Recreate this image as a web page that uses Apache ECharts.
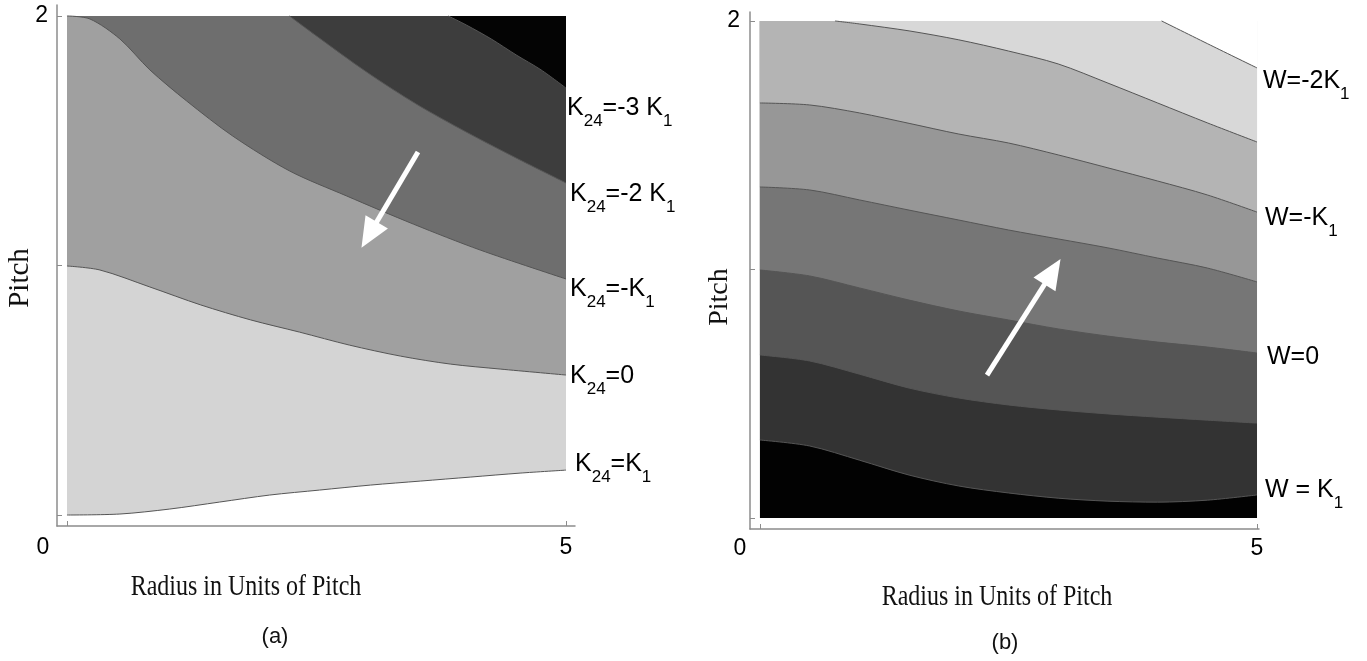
<!DOCTYPE html>
<html><head><meta charset="utf-8">
<script src="https://cdn.jsdelivr.net/npm/echarts@6.0.0/dist/echarts.min.js"></script>
<style>html,body{margin:0;padding:0;background:#fff}#c{width:1367px;height:661px}</style>
</head><body><div id="c"></div>
<script>
// ---------- data ----------
const xTickValues = [0, 5];
const yTickValues = [0, 1, 2];
const yTickLabelValues = [2];

// Panel (a): contour boundaries (radius, pitch)
const a_K24_eq_K1  = [[0,0],[0.53,0.004],[1.03,0.024],[1.53,0.052],[2.03,0.080],[2.53,0.100],[3.04,0.120],[3.54,0.136],[4.04,0.152],[4.54,0.168],[5.0,0.180]];
const a_K24_eq_0   = [[0,0.998],[0.33,0.982],[0.83,0.914],[1.34,0.842],[1.84,0.782],[2.33,0.733],[2.83,0.681],[3.34,0.637],[3.84,0.605],[4.34,0.585],[5.0,0.561]];
const a_K24_eq_mK1 = [[0,2.0],[0.23,1.988],[0.53,1.908],[0.83,1.784],[1.2,1.659],[1.66,1.519],[2.23,1.379],[2.8,1.279],[3.47,1.166],[4.14,1.062],[5.0,0.946]];
const a_K24_eq_m2K1 = [[2.23,2.0],[2.5,1.920],[3.0,1.776],[3.5,1.647],[4.0,1.535],[4.5,1.431],[5.0,1.331]];
const a_K24_eq_m3K1 = [[3.82,2.0],[4.0,1.964],[4.25,1.908],[4.5,1.844],[4.75,1.784],[5.0,1.711]];

// Panel (b): contour boundaries (radius, pitch)
const b_floor = [[0,0],[5,0]];
const b_c6 = [[0,0.314],[0.5,0.290],[1.0,0.233],[1.5,0.173],[2.0,0.129],[2.5,0.101],[3.0,0.080],[3.5,0.068],[4.0,0.064],[4.5,0.072],[5.0,0.093]];
const b_c5 = [[0,0.656],[0.5,0.632],[1.0,0.579],[1.5,0.523],[2.0,0.483],[2.5,0.455],[3.0,0.435],[3.5,0.419],[4.0,0.406],[4.5,0.394],[5.0,0.382]];
const b_c4 = [[0,0.998],[0.5,0.974],[1.0,0.926],[1.5,0.877],[2.0,0.833],[2.5,0.797],[3.0,0.761],[3.5,0.732],[4.0,0.708],[4.5,0.688],[5.0,0.664]];
const b_c3 = [[0,1.332],[0.5,1.320],[1.0,1.280],[1.5,1.239],[2.0,1.199],[2.5,1.159],[3.0,1.123],[3.5,1.087],[4.0,1.046],[4.5,1.006],[5.0,0.950]];
const b_c2 = [[0,1.670],[0.5,1.662],[1.0,1.630],[1.5,1.588],[2.0,1.545],[2.5,1.509],[3.0,1.461],[3.5,1.409],[4.0,1.356],[4.5,1.300],[5.0,1.231]];
const b_c1 = [[0.755,2.0],[1.0,1.988],[1.5,1.960],[2.0,1.924],[2.5,1.879],[3.0,1.827],[3.5,1.750],[4.0,1.670],[4.5,1.590],[5.0,1.513]];
const b_c0 = [[4.04,2.0],[4.53,1.903],[5.0,1.811]];

// arrows (data coords: tail, head)
const arrowA = [[3.517,1.455],[3.027,1.123]];
const arrowB = [[2.284,0.575],[2.943,0.991]];

// contour labels: [text, isSubscript]
const labelsA = [
  [['K',0],['24',1],['=-3 K',0],['1',1]],
  [['K',0],['24',1],['=-2 K',0],['1',1]],
  [['K',0],['24',1],['=-K',0],['1',1]],
  [['K',0],['24',1],['=0',0]],
  [['K',0],['24',1],['=K',0],['1',1]]
];
const labelsB = [
  [['W=-2K',0],['1',1]],
  [['W=-K',0],['1',1]],
  [['W=0',0]],
  [['W = K',0],['1',1]]
];
const xTitle = 'Radius in Units of Pitch';
const yTitle = 'Pitch';
const stableText = 'Stable';

// ---------- chart ----------
const chart = echarts.init(document.getElementById('c'), null, {renderer:'canvas'});
const SANS = '"Liberation Sans", Arial, sans-serif';
const SERIF = '"Liberation Serif", "Times New Roman", serif';
const AX = '#8c8c8c';

function band(idx, data, color, lineW) {
  return {
    type:'line', xAxisIndex:idx, yAxisIndex:idx, data:data,
    smooth:0.3, symbol:'none', showSymbol:false, silent:true, animation:false,
    lineStyle:{color:'#555', width: lineW === undefined ? 1 : lineW},
    areaStyle:{color:color, opacity:1, origin:2}
  };
}
function arrow(pts) {
  return {
    silent:true, animation:false, symbol:['none','triangle'], symbolSize:[26,30],
    lineStyle:{color:'#fff', width:5, type:'solid', opacity:1},
    itemStyle:{color:'#fff'},
    label:{show:false}, emphasis:{disabled:true},
    data:[[{coord:pts[0]},{coord:pts[1]}]]
  };
}

function xAxisCfg(idx, max, zeroPad, margin) {
  return {
    gridIndex:idx, type:'value', min:-0.1, max:max,
    axisLine:{show:true, onZero:false, lineStyle:{color:AX, width:1.5}},
    axisTick:{show:true, inside:true, length:5, customValues:xTickValues, lineStyle:{color:AX}},
    axisLabel:{show:true, customValues:xTickValues, margin:margin, color:'#000', fontSize:23, fontFamily:SANS,
      formatter:function(v){ return v === 0 ? '{z|0}' : '{n|' + v + '}'; },
      rich:{ z:{padding:[0,zeroPad,0,0], fontSize:23, fontFamily:SANS, color:'#000'}, n:{fontSize:23, fontFamily:SANS, color:'#000'} }
    },
    splitLine:{show:false}
  };
}
function yAxisCfg(idx, max, margin) {
  return {
    gridIndex:idx, type:'value', min:-0.044, max:max,
    axisLine:{show:true, onZero:false, lineStyle:{color:AX, width:1.5}},
    axisTick:{show:true, inside:true, length:5, customValues:yTickValues, lineStyle:{color:AX}},
    axisLabel:{show:true, customValues:yTickLabelValues, margin:margin, color:'#000', fontSize:23, fontFamily:SANS},
    splitLine:{show:false}
  };
}

// text helpers
const ctx = document.createElement('canvas').getContext('2d');
function richLabel(x, yc, parts, mainSize, subSize, drop) {
  const out = []; let cx = x;
  parts.forEach(function(p){
    const fs = p[1] ? subSize : mainSize;
    const font = fs + 'px ' + SANS;
    ctx.font = font;
    const w = ctx.measureText(p[0]).width;
    out.push({type:'text', x:cx, y:yc + (p[1] ? drop : 0), silent:true,
      style:{text:p[0], font:font, fill:'#000', align:'left', verticalAlign:'middle', textAlign:'left', textVerticalAlign:'middle'}});
    cx += w;
  });
  return out;
}
function txt(x, y, text, font, rot, sy) {
  return {type:'text', x:x, y:y, rotation:rot || 0, scaleX:1, scaleY:sy || 1, silent:true,
    style:{text:text, font:font, fill:'#111', align:'center', verticalAlign:'middle', textAlign:'center', textVerticalAlign:'middle'}};
}

const labelPosA = [[567,108],[570,194],[570,289],[570,376],[575,464]];
const labelPosB = [[1263,81],[1265,218],[1267,357],[1265,490]];
let gEls = [];
labelsA.forEach(function(l,i){ gEls = gEls.concat(richLabel(labelPosA[i][0], labelPosA[i][1], l, 25, 17, 13.5)); });
labelsB.forEach(function(l,i){ gEls = gEls.concat(richLabel(labelPosB[i][0], labelPosB[i][1], l, 25, 17, 13.5)); });
gEls.push({type:'text', x:307, y:272, silent:true, style:{text:stableText, font:'25px '+SANS, fill:'#000', align:'left', verticalAlign:'middle', textAlign:'left', textVerticalAlign:'middle'}});
gEls.push({type:'text', x:1070, y:232, silent:true, style:{text:stableText, font:'25px '+SANS, fill:'#000', align:'left', verticalAlign:'middle', textAlign:'left', textVerticalAlign:'middle'}});
gEls.push(txt(246, 587, xTitle, '24px '+SERIF, 0, 1.2));
gEls.push(txt(997, 597, xTitle, '24px '+SERIF, 0, 1.2));
gEls.push(txt(20, 278, yTitle, '29px '+SERIF, Math.PI/2));
gEls.push(txt(720, 297, yTitle, '28px '+SERIF, Math.PI/2));
gEls.push(txt(275, 637, '(a)', '22px '+SANS));
gEls.push(txt(1005, 643, '(b)', '22px '+SANS));

const seriesA = [
  band(0, a_K24_eq_K1, '#d4d4d4'),
  band(0, a_K24_eq_0, '#a0a0a0'),
  band(0, a_K24_eq_mK1, '#6e6e6e'),
  band(0, a_K24_eq_m2K1, '#3d3d3d'),
  band(0, a_K24_eq_m3K1, '#040404')
];
seriesA[seriesA.length-1].markLine = arrow(arrowA);

const seriesB = [
  band(1, b_floor, '#020202', 0),
  band(1, b_c6, '#333333'),
  band(1, b_c5, '#555555'),
  band(1, b_c4, '#767676'),
  band(1, b_c3, '#979797'),
  band(1, b_c2, '#b4b4b4'),
  band(1, b_c1, '#d8d8d8'),
  band(1, b_c0, '#ffffff')
];
seriesB[seriesB.length-1].markLine = arrow(arrowB);

chart.setOption({
  animation:false,
  backgroundColor:'#fff',
  grid:[
    {left:57, top:5, width:518, height:521, containLabel:false, show:false},
    {left:750, top:12, width:509, height:517, containLabel:false, show:false}
  ],
  xAxis:[ xAxisCfg(0, 5.09, 48, 10), xAxisCfg(1, 5.02, 40, 8) ],
  yAxis:[ yAxisCfg(0, 2.044, 9), yAxisCfg(1, 2.036, 10) ],
  tooltip:{show:false},
  series: seriesA.concat(seriesB),
  graphic:{elements:gEls}
});
</script>
</body></html>
